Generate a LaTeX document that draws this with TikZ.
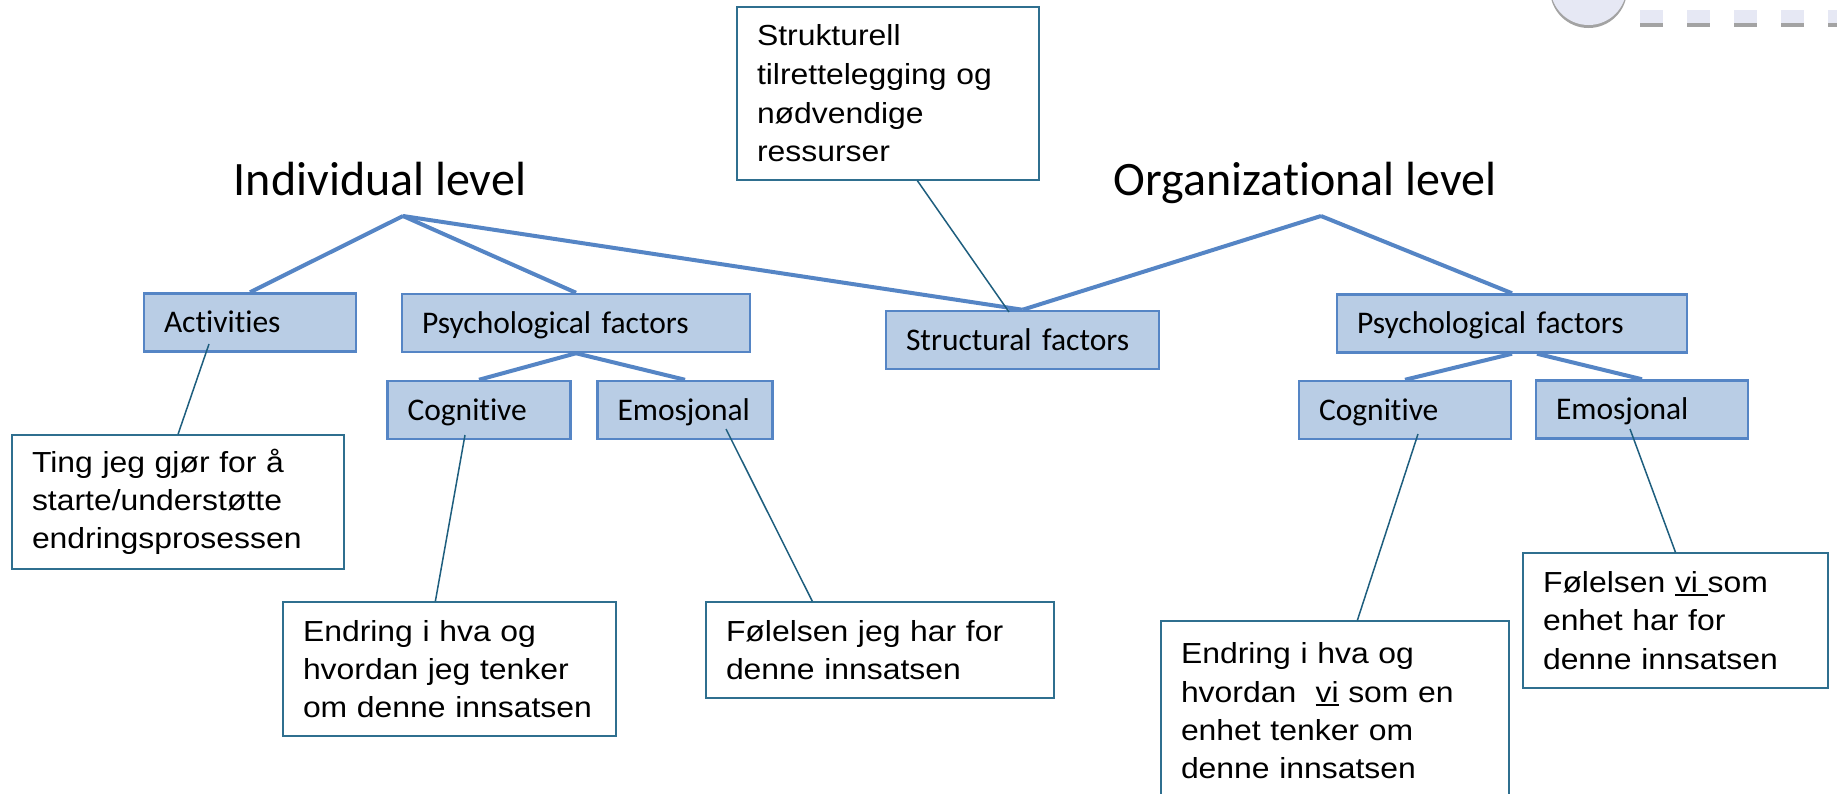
\documentclass[tikz,border=0pt]{standalone}
\usepackage{fontspec}
\usetikzlibrary{calc,backgrounds}
\newfontfamily\calib[Ligatures=NoCommon]{Carlito}
\newfontfamily\arialf[FakeStretch=1.1]{Liberation Sans}
\definecolor{boxfill}{HTML}{B9CDE5}
\definecolor{boxline}{HTML}{5585C5}
\definecolor{noteline}{HTML}{2F6F8F}
\definecolor{pointer}{HTML}{1E5E7E}
\definecolor{deco}{HTML}{E6E8F4}
\definecolor{decoshade}{HTML}{A3A3A3}
% underline with a heavier, lower rule
\newcommand\uln[1]{\setbox0\hbox{#1}\rlap{\rule[-3.5pt]{\wd0}{1.6pt}}\box0\relax}

\begin{document}
\begin{tikzpicture}[x=1pt,y=-1pt,
  lvl/.style={draw=boxline, fill=boxfill, line width=2.5pt, inner xsep=20pt,
    inner ysep=0pt, minimum height=58pt, align=left, text height=20pt,
    text depth=0pt, font=\calib\fontsize{31.5}{36}\selectfont},
  note/.style={draw=noteline, line width=1.3pt, fill=white, inner xsep=20pt,
    inner ysep=0pt, align=left, font=\arialf\fontsize{29}{38.3}\selectfont},
  link/.style={draw=boxline, line width=4pt},
  ptr/.style={draw=pointer, line width=1.5pt},
  heading/.style={font=\calib\fontsize{48}{56}\selectfont, anchor=base, inner sep=0pt}]

\clip (0,0) rectangle (1837,793);
\begin{scope}[on background layer]
  \fill[white] (0,0) rectangle (1837,793);
\end{scope}

% slide ornament, top right
\fill[decoshade] (1588.5,-10.5) circle (38.5);
\fill[deco] (1588.5,-13) circle (38);
\foreach \k in {0,...,4} {
  \fill[deco] (1640+47*\k,10) rectangle ++(23,13);
  \fill[decoshade] (1640+47*\k,23) rectangle ++(23,4);
}

% headings and their branching points
\node[heading] (indiv) at (380,195) {Individual level};
\node[heading] (org) at (1305,195) {Organizational level};
\coordinate (hubI) at (403,216);
\coordinate (hubO) at (1321,216);

% factor boxes
\node[lvl, text width=172pt] (act) at (250,322.5) {Activities};
\node[lvl, text width=308pt] (psyL) at (576,323) {Psychological factors};
\node[lvl, text width=233pt] (str) at (1022.5,340) {Structural factors};
\node[lvl, text width=143pt] (cogL) at (479,410) {Cognitive};
\node[lvl, text width=135pt] (emoL) at (685,410) {Emosjonal};
\node[lvl, text width=310pt] (psyR) at (1512,323.5) {Psychological factors};
\node[lvl, text width=172pt] (cogR) at (1405,410) {Cognitive};
\node[lvl, text width=172pt] (emoR) at (1642,409.5) {Emosjonal};

% tree links, behind the boxes
\begin{scope}[on background layer]
  \path[link] (hubI) -- (act.north);
  \path[link] (hubI) -- (psyL.north);
  \path[link] (hubI) -- (str.north);
  \path[link] (hubO) -- (str.north);
  \path[link] (hubO) -- (psyR.north);
  \path[link] (psyL.south) -- (cogL.north);
  \path[link] (psyL.south) -- (emoL.north);
  \path[link] (psyR.south) -- (cogR.north);
  \path[link] ($(psyR.south)+(25,0)$) -- (emoR.north);
\end{scope}

% callouts
\node[note, text width=262pt, minimum height=173pt,
  font=\arialf\fontsize{29}{38.7}\selectfont] (struk) at (888,93.5)
  {Strukturell\\tilrettelegging og\\nødvendige\\ressurser};
\node[note, text width=292pt, minimum height=134pt] (ting) at (178,502)
  {Ting jeg gjør for å\\starte/understøtte\\endringsprosessen};
\node[note, text width=293pt, minimum height=134pt] (endL) at (449.5,669)
  {Endring i hva og\\hvordan jeg tenker\\om denne innsatsen};
\node[note, text width=308pt, minimum height=96pt] (felJ) at (880,650)
  {Følelsen jeg har for\\denne innsatsen};
\node[note, text width=265pt, minimum height=135pt] (felV) at (1675.5,620.5)
  {Følelsen \uln{vi\ }som\\enhet har for\\denne innsatsen};
\node[note, text width=308pt, minimum height=180pt] (endR) at (1335,711)
  {Endring i hva og\\hvordan\ \ \uln{vi} som en\\enhet tenker om\\denne innsatsen};

% callout pointers
\coordinate (strTip) at (1009,312);
\coordinate (actTip) at (209,344);
\coordinate (cogLTip) at (465,435);
\coordinate (emoLTip) at (726,429);
\coordinate (cogRTip) at (1418,434);
\coordinate (emoRTip) at (1630,429);
\path[ptr] ($(struk.south west)+(181,0)$) -- (strTip);
\path[ptr] (actTip) -- (ting.north);
\path[ptr] (cogLTip) -- ($(endL.north west)+(153,0)$);
\path[ptr] (emoLTip) -- ($(felJ.north west)+(107,0)$);
\path[ptr] (cogRTip) -- ($(endR.north west)+(197,0)$);
\path[ptr] (emoRTip) -- (felV.north);
\end{tikzpicture}
\end{document}
